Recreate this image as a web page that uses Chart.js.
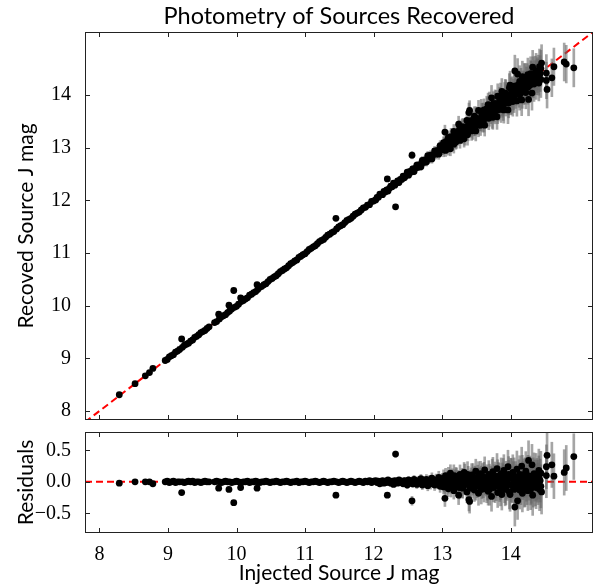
<!DOCTYPE html>
<html>
<head>
<meta charset="utf-8">
<title>Photometry of Sources Recovered</title>
<script src="https://cdn.jsdelivr.net/npm/chart.js@4.4.0/dist/chart.umd.min.js"></script>
<style>
  html, body { margin: 0; padding: 0; background: #fff; }
  #wrap { position: relative; width: 601px; height: 588px; }
  #wrap canvas { position: absolute; left: 0; }
  #mainChart { top: 0; }
  #residChart { top: 426px; }
</style>
</head>
<body>
<div id="wrap">
  <canvas id="mainChart" width="601" height="426"></canvas>
  <canvas id="residChart" width="601" height="162"></canvas>
</div>
<script>
// ---- Data ----
// residual = injected - recovered
const injectedMag = [
  8.29, 8.52, 8.67, 8.73, 8.78, 8.96, 8.99, 9.02, 9.05, 9.08,
  9.11, 9.14, 9.17, 9.20, 9.21, 9.24, 9.27, 9.30, 9.33, 9.36,
  9.39, 9.42, 9.45, 9.48, 9.51, 9.54, 9.57, 9.60, 9.68, 9.71,
  9.74, 9.75, 9.78, 9.81, 9.84, 9.87, 9.89, 9.90, 9.93, 9.96,
  9.97, 10.00, 10.03, 10.06, 10.07, 10.10, 10.13, 10.16, 10.19, 10.22,
  10.25, 10.28, 10.30, 10.31, 10.34, 10.37, 10.40, 10.43, 10.46, 10.49,
  10.52, 10.55, 10.58, 10.61, 10.64, 10.67, 10.70, 10.73, 10.76, 10.79,
  10.82, 10.85, 10.88, 10.91, 10.94, 10.97, 11.00, 11.03, 11.06, 11.09,
  11.12, 11.15, 11.18, 11.21, 11.24, 11.27, 11.30, 11.33, 11.36, 11.39,
  11.42, 11.45, 11.46, 11.49, 11.52, 11.55, 11.58, 11.61, 11.64, 11.67,
  11.70, 11.73, 11.76, 11.79, 11.82, 11.85, 11.88, 11.91, 11.94, 11.97,
  12.00, 12.03, 12.05, 12.07, 12.09, 12.11, 12.13, 12.15, 12.17, 12.19,
  12.20, 12.21, 12.23, 12.25, 12.27, 12.29, 12.31, 12.32, 12.33, 12.35,
  12.37, 12.39, 12.41, 12.43, 12.45, 12.47, 12.49, 12.51, 12.53, 12.55,
  12.56, 12.57, 12.59, 12.61, 12.63, 12.65, 12.67, 12.69, 12.71, 12.73,
  12.75, 12.77, 12.79, 12.81, 12.83, 12.85, 12.87, 12.89, 12.91, 12.93,
  12.95, 12.97, 12.99, 13.01, 13.02, 13.04, 13.05, 13.06, 13.08, 13.09,
  13.11, 13.12, 13.14, 13.15, 13.17, 13.18, 13.20, 13.21, 13.23, 13.24,
  13.26, 13.27, 13.29, 13.30, 13.32, 13.33, 13.35, 13.36, 13.38, 13.39,
  13.40, 13.41, 13.43, 13.44, 13.46, 13.47, 13.49, 13.50, 13.52, 13.53,
  13.55, 13.56, 13.58, 13.59, 13.61, 13.62, 13.64, 13.65, 13.67, 13.68,
  13.70, 13.71, 13.72, 13.74, 13.75, 13.77, 13.78, 13.80, 13.81, 13.83,
  13.84, 13.86, 13.87, 13.89, 13.90, 13.92, 13.93, 13.95, 13.96, 13.98,
  13.99, 14.00, 14.02, 14.03, 14.05, 14.06, 14.07, 14.09, 14.10, 14.11,
  14.13, 14.14, 14.16, 14.17, 14.19, 14.20, 14.22, 14.23, 14.25, 14.26,
  14.28, 14.29, 14.31, 14.32, 14.34, 14.35, 14.37, 14.39, 14.41, 14.42,
  14.44, 14.44, 14.45, 14.52, 14.52, 14.53, 14.60, 14.63, 14.78, 14.81,
  14.92,
  13.00, 13.03, 13.07, 13.10, 13.13, 13.16, 13.19, 13.22, 13.25, 13.28,
  13.31, 13.34, 13.37, 13.42, 13.45, 13.48, 13.51, 13.54, 13.57, 13.60,
  13.63, 13.66, 13.69, 13.73, 13.76, 13.79, 13.82, 13.85, 13.88, 13.91,
  13.94, 13.97, 14.01, 14.04, 14.08, 14.12, 14.15, 14.18, 14.21, 14.24,
  14.27, 14.30, 14.33, 14.36, 14.38, 14.40, 14.43,
  13.02, 13.06, 13.09, 13.13, 13.17, 13.21, 13.25, 13.29, 13.33, 13.37,
  13.41, 13.45, 13.49, 13.53, 13.57, 13.61, 13.65, 13.69, 13.73, 13.77,
  13.81, 13.85, 13.89, 13.93, 13.97, 14.01, 14.05, 14.09, 14.13, 14.17,
  14.21, 14.25, 14.29, 14.33, 14.37, 14.41
];

const residualMag = [
  -0.02, 0.00, 0.00, 0.00, -0.03, 0.00, 0.01, -0.01, 0.00, 0.01,
  -0.01, 0.00, 0.00, -0.17, 0.00, -0.01, 0.00, 0.01, 0.00, 0.01,
  -0.01, 0.00, 0.00, -0.01, 0.00, 0.01, 0.00, 0.00, 0.00, 0.01,
  -0.10, 0.00, -0.01, 0.00, 0.01, 0.00, -0.12, 0.00, -0.01, -0.33,
  0.00, 0.01, 0.00, -0.09, -0.01, 0.00, 0.00, 0.01, -0.01, 0.00,
  0.00, 0.01, -0.10, 0.00, -0.01, 0.00, 0.00, 0.01, 0.00, -0.01,
  0.00, 0.00, 0.01, 0.00, -0.01, 0.00, 0.00, 0.01, 0.00, -0.01,
  0.00, 0.00, 0.01, -0.01, 0.00, 0.00, 0.01, 0.00, -0.01, 0.00,
  0.00, 0.01, 0.00, -0.01, 0.00, 0.01, 0.00, -0.01, 0.00, 0.00,
  0.01, -0.21, 0.00, -0.01, 0.00, 0.01, 0.00, -0.01, 0.00, 0.01,
  0.00, -0.01, 0.00, 0.01, 0.00, -0.01, 0.01, 0.00, 0.02, -0.01,
  0.01, 0.02, -0.01, 0.01, -0.03, 0.00, 0.02, -0.02, 0.01, -0.01,
  -0.21, 0.03, 0.00, -0.02, 0.01, -0.04, 0.02, 0.44, 0.00, -0.02,
  0.03, -0.01, 0.01, -0.03, 0.02, 0.00, -0.05, 0.03, -0.02, 0.01,
  -0.30, -0.03, 0.04, 0.00, -0.04, 0.02, -0.01, 0.05, -0.05, 0.01,
  -0.02, 0.04, -0.06, 0.02, -0.03, 0.06, 0.00, -0.05, 0.03, -0.02,
  0.07, -0.07, 0.01, 0.03, -0.08, -0.26, 0.10, -0.02, 0.05, -0.11,
  0.00, 0.14, -0.05, 0.07, -0.14, 0.02, 0.09, -0.07, 0.04, -0.21,
  0.12, -0.01, 0.06, -0.10, 0.15, -0.04, 0.03, -0.16, 0.08, -0.28,
  -0.31, 0.01, 0.11, -0.08, 0.05, -0.13, 0.17, -0.02, 0.07, -0.18,
  0.02, 0.13, -0.06, 0.09, -0.11, 0.19, -0.01, 0.06, -0.15, 0.12,
  -0.04, 0.03, -0.23, 0.16, -0.09, 0.08, -0.02, 0.21, -0.17, 0.05,
  -0.07, 0.13, -0.20, 0.02, 0.18, -0.12, 0.07, -0.03, 0.24, -0.16,
  -0.20, 0.10, -0.06, 0.15, -0.12, -0.40, 0.04, 0.20, -0.30, -0.08,
  0.12, -0.02, 0.25, -0.18, 0.06, -0.10, 0.17, 0.00, -0.14, 0.34,
  0.09, -0.05, 0.27, -0.21, 0.13, 0.02, -0.09, 0.01, 0.18, -0.12,
  0.14, -0.07, -0.16, 0.24, 0.10, 0.42, 0.27, 0.09, 0.15, 0.22,
  0.40,
  0.01, -0.03, 0.02, -0.04, 0.03, -0.01, 0.04, -0.03, 0.01, -0.05,
  0.04, 0.00, -0.04, 0.03, -0.02, 0.05, -0.05, 0.01, 0.04, -0.03,
  0.02, -0.06, 0.05, -0.01, 0.03, -0.05, 0.06, -0.02, 0.04, -0.06,
  0.01, 0.06, -0.04, 0.03, -0.02, 0.05, -0.06, 0.02, 0.07, -0.05,
  0.03, -0.02, 0.06, -0.05, 0.04, -0.03, 0.02,
  0.06, -0.06, 0.08, -0.08, 0.10, 0.05, -0.09, -0.06, 0.09, 0.12,
  -0.10, 0.08, -0.07, 0.10, -0.12, 0.07, -0.09, -0.12, 0.11, -0.07,
  0.09, -0.11, 0.10, -0.08, 0.12, 0.08, 0.09, -0.09, -0.13, 0.11,
  -0.08, 0.10, -0.12, -0.07, 0.12, 0.07
];

const magError = [
  0.004, 0.004, 0.004, 0.004, 0.004, 0.005, 0.004, 0.005, 0.004, 0.005,
  0.005, 0.004, 0.005, 0.006, 0.005, 0.004, 0.005, 0.005, 0.004, 0.005,
  0.005, 0.004, 0.005, 0.005, 0.004, 0.005, 0.005, 0.005, 0.005, 0.006,
  0.007, 0.005, 0.006, 0.005, 0.006, 0.006, 0.007, 0.006, 0.005, 0.008,
  0.006, 0.006, 0.005, 0.007, 0.006, 0.006, 0.007, 0.006, 0.006, 0.007,
  0.007, 0.006, 0.008, 0.007, 0.007, 0.006, 0.007, 0.007, 0.008, 0.007,
  0.007, 0.008, 0.007, 0.008, 0.008, 0.007, 0.008, 0.009, 0.008, 0.008,
  0.009, 0.008, 0.009, 0.009, 0.010, 0.009, 0.010, 0.010, 0.009, 0.011,
  0.010, 0.011, 0.011, 0.010, 0.012, 0.011, 0.012, 0.012, 0.013, 0.012,
  0.013, 0.016, 0.013, 0.014, 0.014, 0.015, 0.014, 0.016, 0.015, 0.016,
  0.017, 0.016, 0.018, 0.017, 0.019, 0.018, 0.020, 0.019, 0.021, 0.020,
  0.022, 0.024, 0.023, 0.026, 0.025, 0.028, 0.027, 0.030, 0.029, 0.032,
  0.040, 0.033, 0.035, 0.034, 0.037, 0.036, 0.039, 0.050, 0.041, 0.040,
  0.044, 0.043, 0.047, 0.046, 0.050, 0.049, 0.053, 0.052, 0.056, 0.055,
  0.070, 0.059, 0.062, 0.061, 0.066, 0.064, 0.069, 0.068, 0.073, 0.072,
  0.077, 0.076, 0.081, 0.079, 0.085, 0.083, 0.089, 0.087, 0.093, 0.091,
  0.098, 0.096, 0.102, 0.105, 0.110, 0.130, 0.114, 0.117, 0.121, 0.124,
  0.127, 0.131, 0.129, 0.136, 0.133, 0.140, 0.138, 0.145, 0.142, 0.150,
  0.148, 0.155, 0.152, 0.160, 0.157, 0.164, 0.161, 0.169, 0.166, 0.180,
  0.185, 0.172, 0.179, 0.176, 0.184, 0.181, 0.189, 0.186, 0.194, 0.191,
  0.199, 0.196, 0.204, 0.201, 0.209, 0.206, 0.214, 0.211, 0.219, 0.216,
  0.224, 0.221, 0.235, 0.229, 0.226, 0.234, 0.231, 0.239, 0.236, 0.244,
  0.241, 0.249, 0.246, 0.254, 0.251, 0.259, 0.256, 0.264, 0.261, 0.269,
  0.266, 0.274, 0.271, 0.279, 0.276, 0.300, 0.281, 0.289, 0.295, 0.286,
  0.294, 0.291, 0.299, 0.296, 0.304, 0.301, 0.309, 0.306, 0.314, 0.311,
  0.319, 0.316, 0.324, 0.321, 0.329, 0.326, 0.334, 0.331, 0.339, 0.336,
  0.344, 0.341, 0.349, 0.346, 0.351, 0.354, 0.358, 0.355, 0.360, 0.357,
  0.362,
  0.12, 0.13, 0.13, 0.14, 0.14, 0.15, 0.15, 0.16, 0.16, 0.17,
  0.17, 0.18, 0.18, 0.19, 0.19, 0.20, 0.20, 0.21, 0.21, 0.22,
  0.22, 0.23, 0.23, 0.24, 0.24, 0.25, 0.25, 0.26, 0.26, 0.27,
  0.27, 0.28, 0.28, 0.29, 0.29, 0.30, 0.30, 0.30, 0.31, 0.31,
  0.32, 0.32, 0.32, 0.33, 0.33, 0.33, 0.34,
  0.13, 0.14, 0.15, 0.16, 0.17, 0.17, 0.18, 0.19, 0.19, 0.20,
  0.21, 0.21, 0.22, 0.22, 0.23, 0.24, 0.24, 0.25, 0.25, 0.26,
  0.26, 0.27, 0.27, 0.28, 0.28, 0.29, 0.29, 0.30, 0.30, 0.31,
  0.31, 0.32, 0.32, 0.33, 0.33, 0.34
];

const xTicks = [8, 9, 10, 11, 12, 13, 14];
const magTicks = [8, 9, 10, 11, 12, 13, 14];
const residTicks = [-0.5, 0.0, 0.5];

const xRange = [7.79, 15.2];
const magRange = [7.83, 15.2];
const residRange = [-0.81, 0.79];

// ---- Styling ----
const serif = "'Liberation Serif', 'DejaVu Serif', serif";
const sans = "Lato, 'Open Sans', sans-serif";
const frameColor = '#222';
const errColor = 'rgba(100, 100, 100, 0.58)';

Chart.defaults.color = '#000';
Chart.defaults.animation = false;

// matplotlib-like frame with inward ticks on all four sides
const frameTicks = {
  id: 'frameTicks',
  afterDatasetsDraw(chart) {
    const { ctx, chartArea: a, scales } = chart;
    const len = 5;
    ctx.save();
    ctx.strokeStyle = frameColor;
    ctx.lineWidth = 1;
    ctx.beginPath();
    scales.x.ticks.forEach(t => {
      const px = Math.round(scales.x.getPixelForValue(t.value)) + 0.5;
      ctx.moveTo(px, a.bottom); ctx.lineTo(px, a.bottom - len);
      ctx.moveTo(px, a.top); ctx.lineTo(px, a.top + len);
    });
    scales.y.ticks.forEach(t => {
      const py = Math.round(scales.y.getPixelForValue(t.value)) + 0.5;
      ctx.moveTo(a.left, py); ctx.lineTo(a.left + len, py);
      ctx.moveTo(a.right, py); ctx.lineTo(a.right - len, py);
    });
    ctx.stroke();
    ctx.strokeRect(a.left + 0.5, a.top + 0.5, a.right - a.left - 1, a.bottom - a.top - 1);
    ctx.restore();
  }
};

function xAxis(showLabels, height) {
  return {
    type: 'linear', min: xRange[0], max: xRange[1], offset: false,
    grid: { display: false, offset: false }, border: { display: false },
    afterBuildTicks: s => { s.ticks = xTicks.map(v => ({ value: v })); },
    afterFit: s => { s.height = height; s.paddingLeft = 0; s.paddingRight = 0; },
    ticks: {
      display: showLabels, autoSkip: false, maxRotation: 0, padding: 2,
      font: { family: serif, size: 20 }, color: '#000'
    },
    title: {
      display: showLabels, text: 'Injected Source J mag', color: '#000',
      font: { family: sans, size: 21 }, padding: { top: 0, bottom: 2 }
    }
  };
}

function yAxis(range, ticks, label, fmt) {
  return {
    type: 'linear', min: range[0], max: range[1], offset: false,
    grid: { display: false }, border: { display: false },
    afterBuildTicks: s => { s.ticks = ticks.map(v => ({ value: v })); },
    afterFit: s => { s.width = 85; s.paddingTop = 0; s.paddingBottom = 0; },
    ticks: { font: { family: serif, size: 20 }, color: '#000', padding: 6, callback: fmt },
    title: {
      display: true, text: label, color: '#000',
      font: { family: sans, size: 21 }, padding: { top: 14, bottom: 0 }
    }
  };
}

function datasetsFor(yValues, refLine) {
  return [
    {
      type: 'scatter',
      data: injectedMag.map((x, i) => ({ x, y: yValues[i] })),
      pointRadius: 3.4, pointHoverRadius: 3.4,
      pointBackgroundColor: '#000', pointBorderWidth: 0,
      order: 0, clip: 0
    },
    {
      type: 'bar',
      data: injectedMag.map((x, i) => ({ x, y: [yValues[i] - magError[i], yValues[i] + magError[i]] })),
      backgroundColor: errColor, borderWidth: 0,
      barThickness: 2, grouped: false,
      order: 1, clip: 0
    },
    {
      type: 'line',
      data: refLine,
      borderColor: '#ff0000', borderWidth: 2, borderDash: [7, 4],
      pointRadius: 0, fill: false,
      order: 2, clip: 0
    }
  ];
}

const recoveredMag = injectedMag.map((x, i) => x - residualMag[i]);

// ---- Top panel: recovered vs injected ----
new Chart(document.getElementById('mainChart'), {
  type: 'scatter',
  data: {
    datasets: datasetsFor(recoveredMag, [
      { x: xRange[0], y: xRange[0] }, { x: xRange[1], y: xRange[1] }
    ])
  },
  options: {
    responsive: false,
    events: [],
    layout: { padding: { left: 0, right: 8, top: 0, bottom: 0 } },
    plugins: {
      legend: { display: false },
      tooltip: { enabled: false },
      title: {
        display: true, text: 'Photometry of Sources Recovered',
        color: '#000', fullSize: false,
        font: { family: sans, size: 23.5, weight: 'normal', lineHeight: 1 },
        padding: { top: 5, bottom: 3.5 }
      }
    },
    scales: {
      x: xAxis(false, 6),
      y: yAxis(magRange, magTicks, 'Recoved Source J mag', v => v)
    }
  },
  plugins: [frameTicks]
});

// ---- Bottom panel: residuals ----
new Chart(document.getElementById('residChart'), {
  type: 'scatter',
  data: {
    datasets: datasetsFor(residualMag, [
      { x: xRange[0], y: 0 }, { x: xRange[1], y: 0 }
    ])
  },
  options: {
    responsive: false,
    events: [],
    layout: { padding: { left: 0, right: 8, top: 6, bottom: 0 } },
    plugins: {
      legend: { display: false },
      tooltip: { enabled: false }
    },
    scales: {
      x: xAxis(true, 55),
      y: yAxis(residRange, residTicks, 'Residuals',
        v => (v < 0 ? '\u2212' : '') + Math.abs(v).toFixed(1))
    }
  },
  plugins: [frameTicks]
});
</script>
</body>
</html>
